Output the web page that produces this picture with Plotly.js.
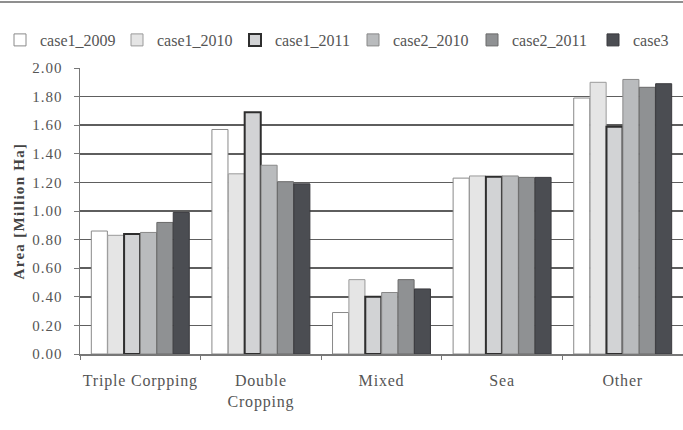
<!DOCTYPE html>
<html>
<head>
<meta charset="utf-8">
<script src="https://cdn.plot.ly/plotly-3.0.1.min.js"></script>
<style>
html,body{margin:0;padding:0;background:#fff;}
#chart{width:683px;height:430px;}
#chart .xtick text{letter-spacing:0.8px;}
#chart .ytick text{letter-spacing:1px;}
#chart .ytitle{letter-spacing:1.3px;}
</style>
</head>
<body>
<div id="chart"></div>
<script>
var categories = ["Triple Corpping", "Double<br>Cropping", "Mixed", "Sea", "Other"];
var seriesNames = ["case1_2009", "case1_2010", "case1_2011", "case2_2010", "case2_2011", "case3"];
var case1_2009 = [0.86, 1.57, 0.29, 1.23, 1.79];
var case1_2010 = [0.83, 1.26, 0.52, 1.245, 1.90];
var case1_2011 = [0.84, 1.69, 0.40, 1.24, 1.59];
var case2_2010 = [0.85, 1.32, 0.43, 1.245, 1.92];
var case2_2011 = [0.92, 1.205, 0.52, 1.235, 1.865];
var case3 = [0.99, 1.19, 0.455, 1.235, 1.89];
var yTickVals = [0, 0.2, 0.4, 0.6, 0.8, 1.0, 1.2, 1.4, 1.6, 1.8, 2.0];

var values = [case1_2009, case1_2010, case1_2011, case2_2010, case2_2011, case3];
var fills = ["#ffffff", "#e5e5e5", "#d2d3d5", "#b9bbbd", "#8f9193", "#4b4d52"];
var lines = ["#8a8a8a", "#9a9a9a", "#2e2e2e", "#888888", "#6a6a6a", "#3a3a3e"];
var lineW = [1, 1, 2, 1, 1, 1];
var legendIds = ["legend", "legend2", "legend3", "legend4", "legend5", "legend6"];
var legendX = [0, 117, 235, 353, 472, 593];

var traces = values.map(function (v, i) {
  return {
    type: "bar",
    name: seriesNames[i],
    x: categories,
    y: v,
    legend: legendIds[i],
    marker: { color: fills[i], line: { color: lines[i], width: lineW[i] } },
    hoverinfo: "skip"
  };
});

var serif = "Liberation Serif";

var layout = {
  width: 683,
  height: 430,
  font: { family: serif, size: 15, color: "#555555" },
  paper_bgcolor: "#ffffff",
  plot_bgcolor: "#ffffff",
  margin: { l: 80, r: 0, t: 68, b: 76 },
  barmode: "group",
  bargap: 0.185,
  bargroupgap: 0.02,
  showlegend: true,
  xaxis: {
    type: "category",
    range: [-0.5, 4.5],
    showgrid: false,
    showline: true,
    linecolor: "#777777",
    linewidth: 1.5,
    ticks: "outside",
    tickson: "boundaries",
    ticklen: 4,
    tickcolor: "#777777",
    tickfont: { family: serif, size: 16, color: "#555555" },
    ticklabelstandoff: 11,
    fixedrange: true
  },
  yaxis: {
    range: [0, 2.0],
    tickvals: yTickVals,
    tickformat: ".2f",
    showgrid: true,
    gridcolor: "#5e5e5e",
    gridwidth: 1.5,
    zeroline: false,
    showline: true,
    linecolor: "#777777",
    linewidth: 1.5,
    ticks: "outside",
    ticklen: 5,
    tickcolor: "#777777",
    tickfont: { family: serif, size: 15, color: "#555555" },
    ticklabelstandoff: 8,
    title: { text: "<b>Area [Million Ha]</b>", font: { family: serif, size: 15, color: "#444444" }, standoff: 8 },
    fixedrange: true
  },
  shapes: [
    { type: "line", xref: "paper", yref: "paper", x0: -0.2, x1: 1.05, y0: 1.231, y1: 1.231, line: { color: "#8f8f8f", width: 2 } }
  ]
};

legendIds.forEach(function (id, i) {
  layout[id] = {
    orientation: "h",
    xref: "container",
    yref: "container",
    x: legendX[i] / 683,
    y: 1 - 40 / 430,
    xanchor: "left",
    yanchor: "middle",
    itemwidth: 30,
    font: { family: serif, size: 16, color: "#555555" },
    bgcolor: "rgba(0,0,0,0)"
  };
});

Plotly.newPlot("chart", traces, layout, { displayModeBar: false, staticPlot: true });
</script>
</body>
</html>
